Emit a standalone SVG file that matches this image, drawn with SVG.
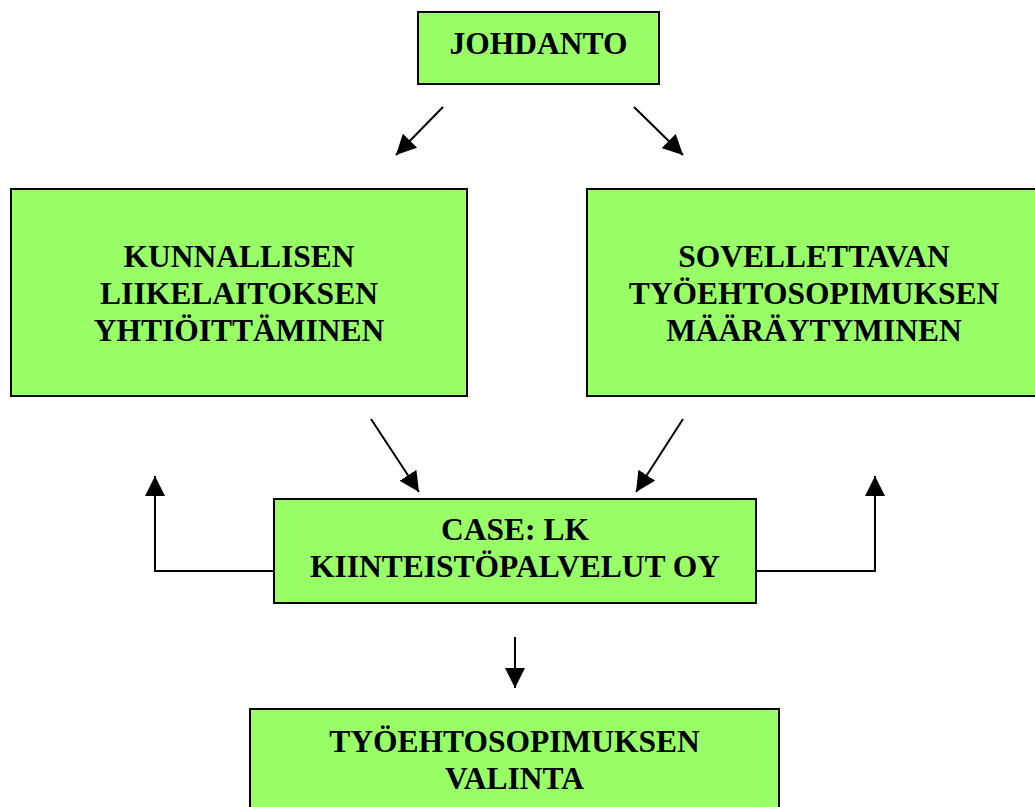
<svg xmlns="http://www.w3.org/2000/svg" width="1035" height="807" viewBox="0 0 1035 807">
<style>
.box{fill:#99ff66;stroke:#000;stroke-width:2}
.t{font-family:"Liberation Serif","Times New Roman",serif;font-weight:bold;font-size:31.5px;fill:#000;text-anchor:middle}
.c{fill:none;stroke:#000;stroke-width:2}
</style>
<defs>
<marker id="ah" markerUnits="userSpaceOnUse" markerWidth="20" markerHeight="20" refX="20" refY="10" orient="auto" viewBox="0 0 20 20">
<path d="M0,0 L20,10 L0,20 z" fill="#000"/>
</marker>
</defs>
<rect width="1035" height="807" fill="#fff"/>
<g id="connectors">
<line class="c" x1="443" y1="107" x2="396" y2="155" marker-end="url(#ah)"/>
<line class="c" x1="634" y1="107" x2="683" y2="155" marker-end="url(#ah)"/>
<line class="c" x1="371" y1="419" x2="419" y2="492" marker-end="url(#ah)"/>
<line class="c" x1="683" y1="419" x2="636" y2="492" marker-end="url(#ah)"/>
<polyline class="c" points="274,571 155,571 155,476" marker-end="url(#ah)"/>
<polyline class="c" points="756,571 875,571 875,476" marker-end="url(#ah)"/>
<line class="c" x1="515" y1="637" x2="515" y2="688" marker-end="url(#ah)"/>
</g>
<g id="johdanto">
<rect class="box" x="418" y="12" width="241" height="72"/>
<text class="t" x="538.5" y="54">JOHDANTO</text>
</g>
<g id="kunnallisen">
<rect class="box" x="11" y="189" width="456" height="207"/>
<text class="t" x="239" y="267">KUNNALLISEN</text>
<text class="t" x="239" y="304">LIIKELAITOKSEN</text>
<text class="t" x="239" y="341">YHTIÖITTÄMINEN</text>
</g>
<g id="sovellettavan">
<rect class="box" x="587" y="189" width="454" height="207"/>
<text class="t" x="814" y="267">SOVELLETTAVAN</text>
<text class="t" x="814" y="304">TYÖEHTOSOPIMUKSEN</text>
<text class="t" x="814" y="341">MÄÄRÄYTYMINEN</text>
</g>
<g id="case">
<rect class="box" x="274" y="499" width="482" height="104"/>
<text class="t" x="515" y="540">CASE: LK</text>
<text class="t" x="515" y="577">KIINTEISTÖPALVELUT OY</text>
</g>
<g id="valinta">
<rect class="box" x="250" y="709" width="529" height="110"/>
<text class="t" x="514.5" y="752">TYÖEHTOSOPIMUKSEN</text>
<text class="t" x="514.5" y="789">VALINTA</text>
</g>
</svg>
